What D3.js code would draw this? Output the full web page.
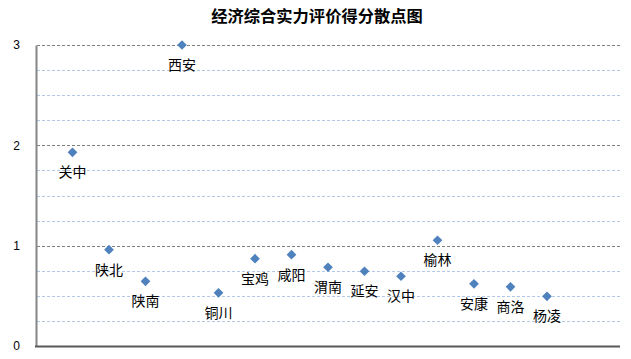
<!DOCTYPE html>
<html><head><meta charset="utf-8">
<script src="https://cdn.jsdelivr.net/npm/d3@7"></script>
<style>body{margin:0;background:#fff}svg{display:block}</style>
</head><body>
<script>
const categories = ["关中","陕北","陕南","西安","铜川","宝鸡","咸阳","渭南","延安","汉中","榆林","安康","商洛","杨凌"];
const scores = [1.93,0.96,0.645,3.0,0.53,0.87,0.91,0.785,0.745,0.695,1.054,0.62,0.59,0.495];
const yTicks = [0,1,2,3];
const minorTicks = [0.25,0.5,0.75,1.25,1.5,1.75,2.25,2.5,2.75];
const title = "经济综合实力评价得分散点图";

const W = 631, H = 359;
const svg = d3.select("body").append("svg").attr("width", W).attr("height", H);
const font = "'Noto Sans CJK SC', sans-serif";

const x = d3.scaleLinear().domain([0, 16]).range([36, 620]);
const y = d3.scaleLinear().domain([0, 3]).range([346, 45]);

svg.append("text").attr("x", 317).attr("y", 22).attr("text-anchor", "middle")
  .attr("font-family", font).attr("font-weight", "bold").attr("font-size", 16.3)
  .attr("fill", "#000").text(title);

// minor grid
svg.append("g").selectAll("line").data(minorTicks).join("line")
  .attr("x1", 37).attr("x2", 620).attr("y1", d => Math.round(y(d)) + 0.5).attr("y2", d => Math.round(y(d)) + 0.5)
  .attr("stroke", "#b4c7e7").attr("stroke-dasharray", "3,2").attr("stroke-width", 1);
// major grid
svg.append("g").selectAll("line").data(yTicks.filter(d => d > 0)).join("line")
  .attr("x1", 37).attr("x2", 620).attr("y1", d => Math.round(y(d)) + 0.5).attr("y2", d => Math.round(y(d)) + 0.5)
  .attr("stroke", "#808080").attr("stroke-dasharray", "3,2").attr("stroke-width", 1);

// axes
const yAxis = d3.axisLeft(y).tickValues(yTicks).tickSize(0).tickPadding(16).tickFormat(d3.format("d"));
const gy = svg.append("g").attr("transform", "translate(36,0)").call(yAxis);
gy.select(".domain").attr("stroke", "#868686").attr("stroke-width", 2);
gy.selectAll("text").attr("font-family", "'Liberation Sans', Arial, sans-serif").attr("font-size", 12).attr("fill", "#000");

svg.append("line").attr("x1", 35).attr("x2", 620).attr("y1", 346.5).attr("y2", 346.5)
  .attr("stroke", "#595959").attr("stroke-width", 2);

// points
const sym = d3.symbol().type(d3.symbolDiamond2).size(60);
svg.append("g").selectAll("path").data(scores).join("path")
  .attr("transform", (d, i) => `translate(${x(i + 1)},${y(d)})`)
  .attr("d", sym).attr("fill", "#4f81bd");

svg.append("g").selectAll("text").data(scores).join("text")
  .attr("x", (d, i) => x(i + 1)).attr("y", d => y(d) + 25)
  .attr("text-anchor", "middle").attr("font-family", font).attr("font-size", 14)
  .attr("fill", "#000").text((d, i) => categories[i]);
</script>
</body></html>
